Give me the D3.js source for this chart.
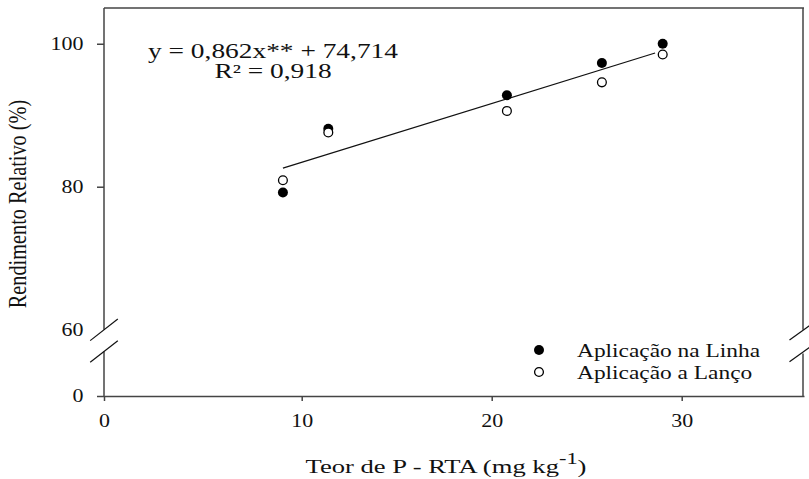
<!DOCTYPE html>
<html>
<head>
<meta charset="utf-8">
<script src="https://cdn.jsdelivr.net/npm/d3@7"></script>
<style>
  body { margin: 0; background: #fff; }
  text { font-family: "Liberation Serif", "Times New Roman", serif; fill: #111; }
</style>
</head>
<body>
<script>
// values
const xValues = [9.05, 11.4, 20.8, 25.8, 29.0];
const linhaValues = [79.2, 88.1, 92.8, 97.3, 100.0];
const lancoValues = [80.9, 87.6, 90.6, 94.6, 98.5];
const fitX = [9.05, 28.6];
const fitY = [82.6, 98.7];
const xTicks = [0, 10, 20, 30];
const yTicks = [0, 60, 80, 100];
const seriesNames = ["Aplicação na Linha", "Aplicação a Lanço"];
const equationLines = ["y = 0,862x** + 74,714", "R² = 0,918"];

const width = 809, height = 479;
const frameColor = "#444";

const svg = d3.select("body").append("svg")
    .attr("width", width)
    .attr("height", height);

const x = d3.scaleLinear()
    .domain([0, 10, 20, 30, 36.4])
    .range([104, 301.7, 491.7, 681.7, 804]);

// broken axis: 0..60 squeezed into a short stub
const y = d3.scaleLinear()
    .domain([0, 60, 105])
    .range([396, 329.7, 8]);

const xLeft = x(0), xRight = x(36.4), yTop = y(105), yBottom = y(0);
const breakLo = 351.5, breakHi = 329.8;

// frame with gaps at the break
const frame = svg.append("g")
    .attr("stroke", frameColor)
    .attr("stroke-width", 1.5)
    .attr("fill", "none");
frame.append("line").attr("x1", xLeft).attr("x2", xRight).attr("y1", yTop).attr("y2", yTop);
frame.append("line").attr("x1", xLeft).attr("x2", xLeft).attr("y1", yTop).attr("y2", breakHi);
frame.append("line").attr("x1", xLeft).attr("x2", xLeft).attr("y1", breakLo).attr("y2", yBottom);
frame.append("line").attr("x1", xRight - 1).attr("x2", xRight - 1).attr("y1", yTop).attr("y2", breakHi);
frame.append("line").attr("x1", xRight - 1).attr("x2", xRight - 1).attr("y1", breakLo + 2).attr("y2", yBottom);

// break slashes
const slashes = [
    { cx: xLeft, cy: breakHi, dx: 13.8, dy: 10.8 },
    { cx: xLeft, cy: breakLo, dx: 13.8, dy: 10.8 },
    { cx: xRight - 4, cy: breakHi + 2.7, dx: 10.5, dy: 7.5 },
    { cx: xRight - 4, cy: breakLo + 2.7, dx: 10.5, dy: 7.5 }
];
svg.append("g")
    .selectAll("line")
    .data(slashes)
    .join("line")
    .attr("x1", d => d.cx - d.dx)
    .attr("y1", d => d.cy + d.dy)
    .attr("x2", d => d.cx + d.dx)
    .attr("y2", d => d.cy - d.dy)
    .attr("stroke", "#111")
    .attr("stroke-width", 1.2);

// x axis
const xAxis = svg.append("g")
    .attr("transform", `translate(0, ${yBottom})`)
    .call(d3.axisBottom(x).tickValues(xTicks).tickSize(5).tickPadding(13).tickSizeOuter(0));
xAxis.select(".domain").attr("stroke", frameColor).attr("stroke-width", 1.5);
xAxis.selectAll(".tick line").attr("stroke", frameColor).attr("stroke-width", 1.5);
xAxis.selectAll(".tick text")
    .attr("font-size", 18)
    .attr("transform", "scale(1.22,1)");

// y axis
const yAxis = svg.append("g")
    .attr("transform", `translate(${xLeft}, 0)`)
    .call(d3.axisLeft(y).tickValues(yTicks).tickSize(7).tickPadding(9.8).tickSizeOuter(0));
yAxis.select(".domain").remove();
yAxis.selectAll(".tick line")
    .attr("stroke", frameColor)
    .attr("stroke-width", 1.5)
    .filter(d => d === 60).remove();
yAxis.selectAll(".tick text")
    .attr("font-size", 18)
    .attr("transform", "scale(1.22,1)");

// axis titles
const xTitle = svg.append("text")
    .attr("transform", "translate(446, 473) scale(1.4,1)")
    .attr("text-anchor", "middle")
    .attr("font-size", 19);
xTitle.append("tspan").text("Teor de P - RTA (mg kg");
xTitle.append("tspan").attr("dy", -9).attr("font-size", 16).text("-1");
xTitle.append("tspan").attr("dy", 9).text(")");

svg.append("text")
    .attr("transform", "translate(26, 204) scale(1.22,1) rotate(-90)")
    .attr("text-anchor", "middle")
    .attr("font-size", 20.3)
    .text("Rendimento Relativo (%)");

// regression line
svg.append("line")
    .attr("x1", x(fitX[0])).attr("y1", y(fitY[0]))
    .attr("x2", x(fitX[1])).attr("y2", y(fitY[1]))
    .attr("stroke", "#111")
    .attr("stroke-width", 1.2);

// points
svg.append("g")
    .selectAll("circle")
    .data(xValues)
    .join("circle")
    .attr("cx", d => x(d))
    .attr("cy", (d, i) => y(linhaValues[i]))
    .attr("r", 5)
    .attr("fill", "#000");

svg.append("g")
    .selectAll("circle")
    .data(xValues)
    .join("circle")
    .attr("cx", d => x(d))
    .attr("cy", (d, i) => y(lancoValues[i]))
    .attr("r", 4.4)
    .attr("fill", "#fff")
    .attr("stroke", "#000")
    .attr("stroke-width", 1.3);

// equation
svg.append("g")
    .selectAll("text")
    .data(equationLines)
    .join("text")
    .attr("transform", (d, i) => `translate(273, ${58 + i * 20}) scale(1.37,1)`)
    .attr("text-anchor", "middle")
    .attr("font-size", 20)
    .text(d => d);

// legend
const legend = svg.append("g");
const legendRows = legend.selectAll("g")
    .data(seriesNames)
    .join("g")
    .attr("transform", (d, i) => `translate(539, ${350 + i * 22})`);
legendRows.append("circle")
    .attr("r", (d, i) => i === 0 ? 5 : 4.4)
    .attr("fill", (d, i) => i === 0 ? "#000" : "#fff")
    .attr("stroke", "#000")
    .attr("stroke-width", (d, i) => i === 0 ? 0 : 1.3);
legendRows.append("text")
    .attr("transform", "translate(38, 7) scale(1.3,1)")
    .attr("font-size", 18)
    .text(d => d);
</script>
</body>
</html>
